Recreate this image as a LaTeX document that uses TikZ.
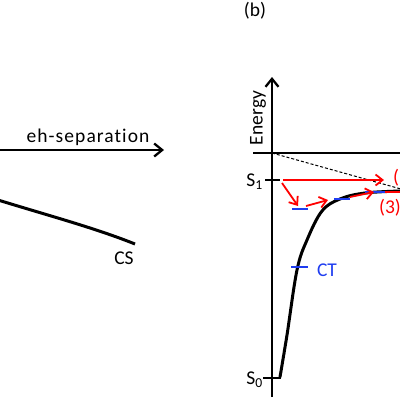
\documentclass[tikz,border=0pt]{standalone}
\usepackage{fontspec}
\setmainfont{Carlito}[Ligatures=NoCommon]
\usetikzlibrary{arrows.meta}
\definecolor{myred}{RGB}{255,0,0}
\definecolor{myblue}{RGB}{30,60,240}
\tikzset{
  lbl/.style={font=\fontsize{19.5}{22}\selectfont, inner sep=0pt},
  axisline/.style={line width=2.3pt},
  bigarrow/.style={line width=2.3pt, -{Straight Barb[length=8pt,width=13pt,line width=2.3pt]}},
  redarrow/.style={myred, line width=1.8pt, -{Straight Barb[length=7pt,width=11pt,line width=1.8pt]}},
  bluedash/.style={myblue, line width=2.6pt},
  curveline/.style={line width=3pt, line cap=round}
}
\begin{document}
\begin{tikzpicture}[x=1pt,y=-1pt]
\useasboundingbox (0,0) rectangle (400,400);
% ---- panel (a) remnant ----
\coordinate (ehL) at (0,150);
\coordinate (ehR) at (164,150);
\draw[bigarrow] (ehL) -- (ehR);
\node[lbl] (ehtext) at (88,137) {\addfontfeature{LetterSpace=5.5}eh-separation};
\coordinate (csL) at (-2,200);
\coordinate (csR) at (135,244);
\draw[curveline, line cap=butt] (csL) .. controls (50,216) and (95,228) .. (csR);
\node[lbl] (cs) at (124,258) {CS};
% ---- panel (b) ----
\node[lbl] (b) at (255,11) {(b)};
\coordinate (axB) at (272,397);
\coordinate (axT) at (272,77);
\draw[bigarrow] (axB) -- (axT);
\node[lbl, rotate=90] (energy) at (258,118) {Energy};
\coordinate (hL) at (253,153);
\coordinate (hR) at (401,153);
\draw[axisline] (hL) -- (hR);
\coordinate (dA) at (272,153);
\coordinate (dB) at (401,189);
\draw[dashed, line width=1pt, dash pattern=on 3pt off 2pt] (dA) -- (dB);
% ticks
\coordinate (s1a) at (265,180);
\coordinate (s1b) at (280,180);
\draw[axisline] (s1a) -- (s1b);
\node[lbl, anchor=east] (s1) at (263,182) {S\textsubscript{1}};
\coordinate (s0a) at (263,378);
\coordinate (s0b) at (281,378);
\draw[axisline] (s0a) -- (s0b);
\node[lbl, anchor=east] (s0) at (263,380) {S\textsubscript{0}};
% curve
\draw[curveline] plot[smooth, tension=0.6] coordinates {(280,377) (287,335) (297,270) (307,240) (322,211) (340,199) (365,193) (401,191)};
% CT
\coordinate (ct1) at (291,267);
\coordinate (ct2) at (308,267);
\draw[bluedash] (ct1) -- (ct2);
\node[lbl, myblue] (ct) at (327,270) {CT};
% blue dashes
\coordinate (bd1a) at (292,209);
\coordinate (bd1b) at (308,209);
\draw[bluedash] (bd1a) -- (bd1b);
\coordinate (bd2a) at (334,199);
\coordinate (bd2b) at (350,199);
\draw[bluedash] (bd2a) -- (bd2b);
\coordinate (bd3a) at (365,192);
\coordinate (bd3b) at (385,192);
\draw[bluedash] (bd3a) -- (bd3b);
\coordinate (rdA) at (385,192);
\coordinate (rdB) at (401,192);
\draw[myred, line width=2.6pt] (rdA) -- (rdB);
% red arrows
\coordinate (r1a) at (283,180);
\coordinate (r1b) at (384,180);
\draw[redarrow] (r1a) -- (r1b);
\coordinate (r2a) at (282,183);
\coordinate (r2b) at (298,206);
\draw[redarrow] (r2a) -- (r2b);
\coordinate (r3a) at (306,206);
\coordinate (r3b) at (328,200);
\draw[redarrow] (r3a) -- (r3b);
\coordinate (r4a) at (350,197);
\coordinate (r4b) at (374,192);
\draw[redarrow] (r4a) -- (r4b);
\node[lbl, myred, anchor=west] (p1) at (393,178) {(};
\node[lbl, myred, anchor=west] (p3) at (379,208) {(3)};
\end{tikzpicture}
\end{document}
